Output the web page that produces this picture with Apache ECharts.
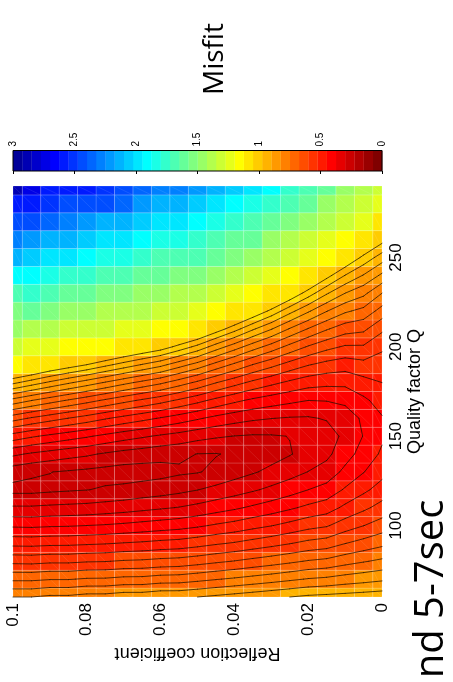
<!DOCTYPE html>
<html>
<head>
<meta charset="utf-8">
<script src="https://cdn.jsdelivr.net/npm/echarts@6/dist/echarts.min.js"></script>
<style>
  html, body { margin: 0; padding: 0; background: #fff; }
  #chart { width: 453px; height: 682px; }
</style>
</head>
<body>
<div id="chart"></div>
<script>
// Grid nodes: reflection coefficient (columns) and quality factor Q (rows)
const reflection = [0, 0.005, 0.01, 0.015, 0.02, 0.025, 0.03, 0.035, 0.04, 0.045, 0.05,
                    0.055, 0.06, 0.065, 0.07, 0.075, 0.08, 0.085, 0.09, 0.095, 0.1];
const quality = [60, 70, 80, 90, 100, 110, 120, 130, 140, 150, 160, 170, 180, 190,
                 200, 210, 220, 230, 240, 250, 260, 270, 280, 290];

// Misfit along Q (60 -> 290) for each reflection coefficient
const misfitR000 = [0.93, 0.841, 0.76, 0.687, 0.623, 0.568, 0.521, 0.484, 0.458, 0.442, 0.446, 0.471, 0.5, 0.525, 0.56, 0.61, 0.68, 0.75, 0.84, 0.925, 1.02, 1.12, 1.22, 1.32];
const misfitR005 = [0.925, 0.831, 0.746, 0.668, 0.599, 0.539, 0.489, 0.448, 0.419, 0.402, 0.409, 0.44, 0.483, 0.535, 0.594, 0.661, 0.734, 0.813, 0.897, 0.986, 1.09, 1.2, 1.3, 1.39];
const misfitR010 = [0.92, 0.822, 0.731, 0.649, 0.575, 0.511, 0.456, 0.412, 0.38, 0.362, 0.373, 0.411, 0.462, 0.523, 0.594, 0.672, 0.758, 0.85, 0.949, 1.06, 1.17, 1.29, 1.39, 1.485];
const misfitR015 = [0.915, 0.81, 0.713, 0.624, 0.545, 0.476, 0.418, 0.371, 0.338, 0.326, 0.354, 0.402, 0.463, 0.534, 0.615, 0.705, 0.802, 0.906, 1.02, 1.15, 1.27, 1.38, 1.485, 1.6];
const misfitR020 = [0.91, 0.803, 0.704, 0.614, 0.533, 0.461, 0.4, 0.351, 0.317, 0.309, 0.345, 0.4, 0.471, 0.553, 0.645, 0.747, 0.857, 0.976, 1.1, 1.23, 1.34, 1.47, 1.585, 1.7];
const misfitR025 = [0.9, 0.791, 0.69, 0.598, 0.515, 0.442, 0.379, 0.33, 0.297, 0.301, 0.346, 0.411, 0.49, 0.581, 0.684, 0.796, 0.917, 1.05, 1.18, 1.31, 1.42, 1.535, 1.65, 1.78];
const misfitR030 = [0.89, 0.779, 0.677, 0.583, 0.498, 0.424, 0.361, 0.312, 0.281, 0.296, 0.351, 0.424, 0.513, 0.615, 0.729, 0.853, 0.986, 1.12, 1.26, 1.37, 1.495, 1.61, 1.75, 1.88];
const misfitR035 = [0.88, 0.768, 0.665, 0.569, 0.484, 0.408, 0.344, 0.295, 0.266, 0.295, 0.358, 0.44, 0.538, 0.649, 0.773, 0.907, 1.05, 1.19, 1.34, 1.46, 1.585, 1.71, 1.86, 2.0];
const misfitR040 = [0.87, 0.757, 0.652, 0.555, 0.468, 0.392, 0.328, 0.279, 0.256, 0.299, 0.37, 0.461, 0.569, 0.69, 0.824, 0.97, 1.11, 1.26, 1.38, 1.505, 1.63, 1.78, 1.9, 2.06];
const misfitR045 = [0.86, 0.747, 0.641, 0.544, 0.456, 0.378, 0.314, 0.26, 0.248, 0.306, 0.386, 0.486, 0.602, 0.733, 0.876, 1.03, 1.18, 1.32, 1.45, 1.585, 1.71, 1.86, 2.0, 2.15];
const misfitR050 = [0.85, 0.736, 0.629, 0.531, 0.442, 0.364, 0.299, 0.247, 0.249, 0.317, 0.406, 0.515, 0.64, 0.781, 0.935, 1.09, 1.26, 1.4, 1.535, 1.66, 1.76, 1.91, 2.06, 2.2];
const misfitR055 = [0.84, 0.726, 0.619, 0.52, 0.431, 0.352, 0.287, 0.242, 0.26, 0.331, 0.426, 0.542, 0.675, 0.822, 0.983, 1.13, 1.28, 1.41, 1.545, 1.68, 1.83, 1.97, 2.12, 2.27];
const misfitR060 = [0.84, 0.724, 0.615, 0.515, 0.424, 0.344, 0.277, 0.233, 0.265, 0.343, 0.446, 0.569, 0.71, 0.865, 1.03, 1.18, 1.32, 1.45, 1.585, 1.71, 1.86, 2.01, 2.15, 2.3];
const misfitR065 = [0.83, 0.715, 0.608, 0.508, 0.417, 0.336, 0.27, 0.228, 0.274, 0.357, 0.465, 0.592, 0.737, 0.897, 1.06, 1.21, 1.35, 1.485, 1.62, 1.77, 1.92, 2.08, 2.23, 2.38];
const misfitR070 = [0.83, 0.714, 0.605, 0.503, 0.41, 0.328, 0.261, 0.228, 0.282, 0.371, 0.484, 0.616, 0.765, 0.93, 1.09, 1.25, 1.38, 1.525, 1.66, 1.82, 1.97, 2.13, 2.35, 2.44];
const misfitR075 = [0.82, 0.706, 0.598, 0.497, 0.404, 0.322, 0.255, 0.233, 0.294, 0.388, 0.505, 0.642, 0.796, 0.964, 1.125, 1.28, 1.42, 1.555, 1.7, 1.86, 2.01, 2.17, 2.4, 2.48];
const misfitR080 = [0.82, 0.705, 0.596, 0.493, 0.4, 0.316, 0.249, 0.239, 0.308, 0.406, 0.528, 0.669, 0.827, 1.0, 1.16, 1.32, 1.46, 1.585, 1.75, 1.91, 2.07, 2.23, 2.45, 2.55];
const misfitR085 = [0.81, 0.697, 0.59, 0.489, 0.396, 0.313, 0.245, 0.245, 0.318, 0.422, 0.549, 0.695, 0.858, 1.03, 1.19, 1.33, 1.465, 1.62, 1.79, 1.95, 2.11, 2.28, 2.44, 2.6];
const misfitR090 = [0.81, 0.697, 0.59, 0.488, 0.394, 0.31, 0.241, 0.251, 0.33, 0.439, 0.571, 0.722, 0.891, 1.06, 1.23, 1.37, 1.515, 1.66, 1.82, 2.0, 2.17, 2.33, 2.5, 2.62];
const misfitR095 = [0.8, 0.69, 0.584, 0.484, 0.39, 0.306, 0.236, 0.258, 0.343, 0.457, 0.594, 0.751, 0.926, 1.1, 1.27, 1.42, 1.575, 1.73, 1.9, 2.07, 2.24, 2.41, 2.58, 2.75];
const misfitR100 = [0.8, 0.69, 0.586, 0.485, 0.392, 0.306, 0.236, 0.27, 0.36, 0.479, 0.621, 0.783, 0.962, 1.13, 1.28, 1.45, 1.545, 1.7, 1.92, 2.12, 2.27, 2.43, 2.6, 2.9];

const misfit = [misfitR000, misfitR005, misfitR010, misfitR015, misfitR020, misfitR025,
                misfitR030, misfitR035, misfitR040, misfitR045, misfitR050, misfitR055,
                misfitR060, misfitR065, misfitR070, misfitR075, misfitR080, misfitR085,
                misfitR090, misfitR095, misfitR100];

const contourLevels = [0.25, 0.3, 0.35, 0.4, 0.45, 0.5, 0.55, 0.6, 0.65, 0.7, 0.75, 0.8, 0.85, 0.9, 0.95, 1.0];
const qTickValues = [100, 150, 200, 250];
const misfitRange = [0, 3];
const colorSteps = 40;

// MATLAB-style jet colormap with n entries
function jet(n) {
  const m = Math.ceil(n / 4);
  const u = [];
  for (let i = 1; i <= m; i++) u.push(i / m);
  for (let i = 0; i < m - 1; i++) u.push(1);
  for (let i = m; i >= 1; i--) u.push(i / m);
  const g0 = Math.ceil(m / 2) - (n % 4 === 1 ? 1 : 0);
  const rows = Array.from({ length: n }, () => [0, 0, 0]);
  u.forEach((val, k) => {
    const g = g0 + k + 1, r = g + m, b = g - m;
    if (g >= 1 && g <= n) rows[g - 1][1] = val;
    if (r >= 1 && r <= n) rows[r - 1][0] = val;
    if (b >= 1 && b <= n) rows[b - 1][2] = val;
  });
  return rows.map(c => 'rgb(' + c.map(x => Math.round(x * 255)).join(',') + ')');
}
const cmap = jet(colorSteps);
const binWidth = (misfitRange[1] - misfitRange[0]) / colorSteps;
// low misfit -> dark red, high misfit -> dark blue
function colorOf(v) {
  let k = Math.floor((v - misfitRange[0]) / binWidth);
  k = Math.max(0, Math.min(colorSteps - 1, k));
  return cmap[colorSteps - 1 - k];
}

// Cell list for the image plot
const cells = [];
reflection.forEach((r, i) => quality.forEach((q, j) => cells.push([r, q, misfit[i][j]])));
const halfR = (reflection[1] - reflection[0]) / 2;
const halfQ = (quality[1] - quality[0]) / 2;

// Marching squares on the node grid
function contourSegments(level) {
  const segs = [];
  for (let i = 0; i < reflection.length - 1; i++) {
    for (let j = 0; j < quality.length - 1; j++) {
      const c = [[i, j], [i + 1, j], [i + 1, j + 1], [i, j + 1]];
      const v = c.map(([a, b]) => misfit[a][b]);
      const pts = [];
      for (let e = 0; e < 4; e++) {
        const a = e, b = (e + 1) % 4;
        if ((v[a] < level) !== (v[b] < level)) {
          const t = (level - v[a]) / (v[b] - v[a]);
          const ra = reflection[c[a][0]], rb = reflection[c[b][0]];
          const qa = quality[c[a][1]], qb = quality[c[b][1]];
          pts.push([ra + t * (rb - ra), qa + t * (qb - qa)]);
        }
      }
      if (pts.length === 2) {
        segs.push([pts[0][0], pts[0][1], pts[1][0], pts[1][1]]);
      } else if (pts.length === 4) {
        const center = (v[0] + v[1] + v[2] + v[3]) / 4;
        if ((center < level) === (v[0] < level)) {
          segs.push([pts[0][0], pts[0][1], pts[1][0], pts[1][1]]);
          segs.push([pts[2][0], pts[2][1], pts[3][0], pts[3][1]]);
        } else {
          segs.push([pts[3][0], pts[3][1], pts[0][0], pts[0][1]]);
          segs.push([pts[1][0], pts[1][1], pts[2][0], pts[2][1]]);
        }
      }
    }
  }
  return segs;
}
const contourData = [];
contourLevels.forEach(l => contourSegments(l).forEach(s => contourData.push(s)));

// Colour bar blocks
const barBlocks = [];
for (let k = 0; k < colorSteps; k++) {
  barBlocks.push([misfitRange[0] + k * binWidth, misfitRange[0] + (k + 1) * binWidth, k]);
}

const labelFont = 'Liberation Sans, Arial, sans-serif';
const chart = echarts.init(document.getElementById('chart'), null, { renderer: 'canvas' });

chart.setOption({
  animation: false,
  backgroundColor: '#fff',
  grid: [
    { left: 13, right: 71, top: 186, bottom: 85, outerBoundsMode: 'none' },
    { left: 13, right: 71, top: 150.5, height: 20.5, outerBoundsMode: 'none' }
  ],
  xAxis: [
    {
      gridIndex: 0, type: 'value', min: 0, max: 0.1, interval: 0.02, inverse: true,
      position: 'bottom',
      name: 'Reflection coefficient', nameLocation: 'middle', nameRotate: 180, nameGap: 47,
      nameMoveOverlap: false,
      nameTextStyle: { fontFamily: labelFont, fontSize: 18, color: '#000' },
      axisLine: { show: false }, axisTick: { show: false }, splitLine: { show: false },
      axisLabel: {
        rotate: 90, margin: 6, fontFamily: labelFont, fontSize: 17, color: '#000',
        formatter: v => String(parseFloat(v.toFixed(3)))
      }
    },
    {
      gridIndex: 1, type: 'value', min: misfitRange[0], max: misfitRange[1], interval: 0.5,
      inverse: true, position: 'top',
      axisLine: { show: false }, splitLine: { show: false },
      axisTick: { show: true, inside: true, length: 3, lineStyle: { color: '#000', width: 1 } },
      axisLabel: {
        rotate: 90, margin: 4, fontFamily: labelFont, fontSize: 10, color: '#000',
        formatter: v => String(parseFloat(v.toFixed(2)))
      }
    }
  ],
  yAxis: [
    {
      gridIndex: 0, type: 'value', min: quality[0], max: quality[quality.length - 1],
      position: 'right',
      name: 'Quality factor Q', nameLocation: 'middle', nameRotate: 90, nameGap: 24,
      nameMoveOverlap: false,
      nameTextStyle: { fontFamily: labelFont, fontSize: 18, color: '#000' },
      axisLine: { show: false }, axisTick: { show: false }, splitLine: { show: false },
      axisLabel: {
        customValues: qTickValues, rotate: 90, margin: 6,
        fontFamily: labelFont, fontSize: 17, color: '#000'
      }
    },
    {
      gridIndex: 1, type: 'value', min: 0, max: 1, show: false
    }
  ],
  series: [
    {
      type: 'custom', name: 'misfit', xAxisIndex: 0, yAxisIndex: 0, silent: true, z: 1,
      data: cells, encode: { x: 0, y: 1 },
      renderItem(params, api) {
        const r = api.value(0), q = api.value(1), v = api.value(2);
        const a = api.coord([r + halfR, q + halfQ]);
        const b = api.coord([r - halfR, q - halfQ]);
        const cs = params.coordSys;
        const rect = echarts.graphic.clipRectByRect(
          { x: Math.min(a[0], b[0]), y: Math.min(a[1], b[1]),
            width: Math.abs(b[0] - a[0]), height: Math.abs(b[1] - a[1]) },
          { x: cs.x, y: cs.y, width: cs.width, height: cs.height });
        if (!rect) return;
        return {
          type: 'group',
          children: [
            { type: 'rect', shape: rect,
              style: { fill: colorOf(v), stroke: 'rgba(255,255,255,0.2)', lineWidth: 0.8 } },
            { type: 'line',
              shape: { x1: rect.x, y1: rect.y, x2: rect.x + rect.width, y2: rect.y + rect.height },
              style: { stroke: 'rgba(255,255,255,0.13)', lineWidth: 0.7 } }
          ]
        };
      }
    },
    {
      type: 'custom', name: 'contours', xAxisIndex: 0, yAxisIndex: 0, silent: true, z: 2,
      data: contourData, encode: { x: [0, 2], y: [1, 3] },
      renderItem(params, api) {
        const a = api.coord([api.value(0), api.value(1)]);
        const b = api.coord([api.value(2), api.value(3)]);
        return {
          type: 'line',
          shape: { x1: a[0], y1: a[1], x2: b[0], y2: b[1] },
          style: { stroke: 'rgba(25,15,0,0.72)', lineWidth: 1, lineCap: 'round' }
        };
      }
    },
    {
      type: 'custom', name: 'colorbar', xAxisIndex: 1, yAxisIndex: 1, silent: true, z: 1,
      data: barBlocks, encode: { x: [0, 1] },
      renderItem(params, api) {
        const a = api.coord([api.value(0), 1]);
        const b = api.coord([api.value(1), 0]);
        const k = api.value(2);
        const children = [{
          type: 'rect',
          shape: { x: Math.min(a[0], b[0]), y: Math.min(a[1], b[1]),
                   width: Math.abs(b[0] - a[0]) + 0.3, height: Math.abs(b[1] - a[1]) },
          style: { fill: cmap[colorSteps - 1 - k] }
        }];
        if (k === colorSteps - 1) {
          const cs = params.coordSys;
          children.push({
            type: 'rect', z2: 10,
            shape: { x: cs.x, y: cs.y, width: cs.width, height: cs.height },
            style: { fill: 'none', stroke: '#000', lineWidth: 1 }
          });
        }
        return { type: 'group', children };
      }
    }
  ],
  graphic: [
    {
      type: 'text', x: 215, y: 59, rotation: Math.PI / 2,
      style: { text: 'Misfit', font: '28px "Open Sans"', fill: '#000',
               align: 'center', verticalAlign: 'middle',
               textAlign: 'center', textVerticalAlign: 'middle' }
    },
    {
      type: 'text', x: 432, y: 589, rotation: Math.PI / 2,
      style: { text: 'nd 5-7sec', font: '40px "Open Sans"', fill: '#000',
               align: 'center', verticalAlign: 'middle',
               textAlign: 'center', textVerticalAlign: 'middle' }
    }
  ]
});
</script>
</body>
</html>
